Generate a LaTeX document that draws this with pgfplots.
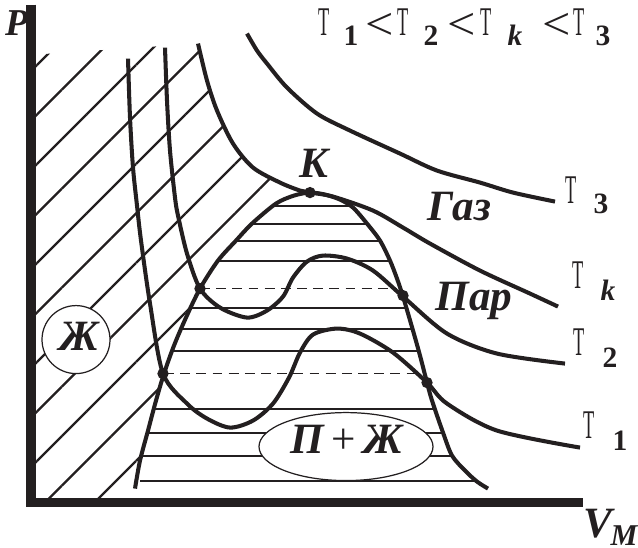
\documentclass[border=0pt]{standalone}
\usepackage{pgfplots}
\pgfplotsset{compat=1.18}
\usepackage{graphicx}
\usepackage{fontspec}
\setmainfont{Liberation Serif}
\usetikzlibrary{patterns.meta}
\definecolor{ink}{RGB}{35,31,32}
\newcommand{\Tt}{{\fontsize{11.6}{12}\selectfont\scalebox{0.45}[1]{T}}}
\newcommand{\Sub}[1]{{\fontsize{8.4}{9}\selectfont\bfseries #1}}
\newcommand{\Lab}{\fontsize{12.3}{13}\selectfont\bfseries\itshape}
\newcommand{\Lt}{{\fontsize{13}{14}\selectfont\scalebox{1.1}[1]{<}}}
\begin{document}
\begin{tikzpicture}
\begin{axis}[scale only axis, width=6.38cm, height=5.47cm,
  xmin=0, xmax=638, ymin=0, ymax=547, y dir=reverse,
  hide axis, clip=false]
\path (rel axis cs:0,0) rectangle (rel axis cs:1,1);
% liquid region, diagonal hatching
\addplot[draw=none, pattern={Lines[angle=45,distance=0.35cm,line width=0.65pt]}, pattern color=ink]
 coordinates {(36,54)(198,43)(207,80)(217,110)(233,143)(253,167)(280,182)(300,190)(310,192)
 (294,195)(276,203)(252,223)(236,240)(218,260)(200,288)(186,317)(174,345)(164,373)(156,400)
 (148,430)(140,460)(135,488)(133,498)(36,498)(36,54)};
% two-phase region, horizontal lines
\addplot[ink, line width=0.6pt] coordinates {(274,205)(350,205)};
\addplot[ink, line width=0.6pt] coordinates {(252,223)(367,223)};
\addplot[ink, line width=0.6pt] coordinates {(236,240)(380,240)};
\addplot[ink, line width=0.6pt] coordinates {(218,260)(390,260)};
\addplot[ink, line width=0.6pt] coordinates {(191,307)(406,307)};
\addplot[ink, line width=0.6pt] coordinates {(181,328)(412,328)};
\addplot[ink, line width=0.6pt] coordinates {(172,350)(418,350)};
\addplot[ink, line width=0.6pt] coordinates {(154,408)(435,408)};
\addplot[ink, line width=0.6pt] coordinates {(148,432)(443,432)};
\addplot[ink, line width=0.6pt] coordinates {(142,455)(452,455)};
\addplot[ink, line width=0.6pt] coordinates {(140,480)(475,480)};
% dashed tie lines
\addplot[ink, line width=0.5pt, dash pattern=on 2.8pt off 1.8pt] coordinates {(200,288)(397,288)};
\addplot[ink, line width=0.5pt, dash pattern=on 2.8pt off 1.8pt] coordinates {(164,373)(420,373)};
% labels in ellipses
\draw[ink, line width=0.35pt, fill=white] (axis cs:76,339) circle [radius=0.34cm];
\draw[ink, line width=0.35pt, fill=white] (axis cs:346,446) ellipse [x radius=0.87cm, y radius=0.34cm];
% binodal
\addplot[ink, line width=1.15pt, smooth, tension=0.5] coordinates {
 (135,488)(140,460)(148,430)(156,400)(164,373)(174,345)(186,317)(200,288)(218,260)(236,240)
 (252,223)(276,203)(294,195)(310,192)(325,194)(340,199)(353,207)(367,223)(380,240)(390,260)
 (397,278)(403,296)(413,330)(420,355)(427,382)(432,400)(443,432)(452,455)(465,470)(477,481)(488,488)};
% isotherm T3
\addplot[ink, line width=1.15pt, smooth, tension=0.5] coordinates {
 (247,33)(257,50)(267,63)(287,87)(317,113)(350,130)(400,153)(437,170)(480,182)(513,192)(555,201)};
% isotherm Tk
\addplot[ink, line width=1.15pt, smooth, tension=0.5] coordinates {
 (198,43)(207,80)(217,110)(233,143)(253,167)(280,182)(300,190)(310,192)(333,196)(373,210)
 (403,227)(430,243)(480,270)(530,293)(558,306)};
% isotherm T2
\addplot[ink, line width=1.15pt, smooth, tension=0.5] coordinates {
 (165,47)(167,100)(170,150)(175,197)(178,215)(187,253)(200,288)(220,307)(247,317)(267,310)
 (283,296)(293,277)(307,261)(323,255)(347,258)(373,270)(403,296)(447,333)(497,353)(565,363)};
% isotherm T1
\addplot[ink, line width=1.15pt, smooth, tension=0.5] coordinates {
 (128,58)(130,117)(133,167)(137,205)(141,240)(150,303)(163,373)(187,403)(207,418)(230,427)
 (253,420)(273,403)(289,377)(300,352)(313,334)(337,328)(360,333)(393,352)(427,382)(447,403)
 (497,430)(580,447)};
% points
\addplot[only marks, mark=*, mark size=1.4pt, color=ink] coordinates {
 (310,192)(200,288)(403,295)(163,373)(427,382)};
% axes
\addplot[ink, line width=2.6pt, line join=miter] coordinates {(31,4)(31,502)(583,502)};
% texts
\node[anchor=base, inner sep=0, ink] at (axis cs:17,35) {\fontsize{10.8}{12}\selectfont\bfseries\itshape P};
\node[anchor=base west, inner sep=0, ink] at (axis cs:583,537) {\Lab V};
\node[anchor=base west, inner sep=0, ink] at (axis cs:610,545) {\fontsize{8.6}{9}\selectfont\bfseries\itshape M};
\node[anchor=base, inner sep=0, ink] at (axis cs:314,177) {\Lab K};
\node[anchor=base west, inner sep=0, ink] at (axis cs:427,220) {\Lab Газ};
\node[anchor=base west, inner sep=0, ink] at (axis cs:435,310) {\Lab Пар};
\node[anchor=base, inner sep=0, ink] at (axis cs:79,350) {\Lab Ж};
\node[anchor=base, inner sep=0, ink] at (axis cs:347,453) {\Lab П\,\textnormal{\fontsize{12.3}{13}\selectfont+}\,Ж};
% isotherm labels
\node[anchor=base west, inner sep=0, ink] at (axis cs:565,203) {\Tt};
\node[anchor=base west, inner sep=0, ink] at (axis cs:593,213) {\Sub{3}};
\node[anchor=base west, inner sep=0, ink] at (axis cs:572,288) {\Tt};
\node[anchor=base west, inner sep=0, ink] at (axis cs:600,300) {\Sub{\itshape k}};
\node[anchor=base west, inner sep=0, ink] at (axis cs:573,355) {\Tt};
\node[anchor=base west, inner sep=0, ink] at (axis cs:602,367) {\Sub{2}};
\node[anchor=base west, inner sep=0, ink] at (axis cs:583,438) {\Tt};
\node[anchor=base west, inner sep=0, ink] at (axis cs:612,450) {\Sub{1}};
% top relation
\node[anchor=base west, inner sep=0, ink] at (axis cs:318,35) {\Tt};
\node[anchor=base west, inner sep=0, ink] at (axis cs:343,45) {\Sub{1}};
\node[anchor=center, inner sep=0, ink] at (axis cs:380,26) {\Lt};
\node[anchor=base west, inner sep=0, ink] at (axis cs:397,35) {\Tt};
\node[anchor=base west, inner sep=0, ink] at (axis cs:423,45) {\Sub{2}};
\node[anchor=center, inner sep=0, ink] at (axis cs:462,26) {\Lt};
\node[anchor=base west, inner sep=0, ink] at (axis cs:480,35) {\Tt};
\node[anchor=base west, inner sep=0, ink] at (axis cs:507,45) {\Sub{\itshape k}};
\node[anchor=center, inner sep=0, ink] at (axis cs:557,26) {\Lt};
\node[anchor=base west, inner sep=0, ink] at (axis cs:573,35) {\Tt};
\node[anchor=base west, inner sep=0, ink] at (axis cs:595,45) {\Sub{3}};
\end{axis}
\end{tikzpicture}
\end{document}
